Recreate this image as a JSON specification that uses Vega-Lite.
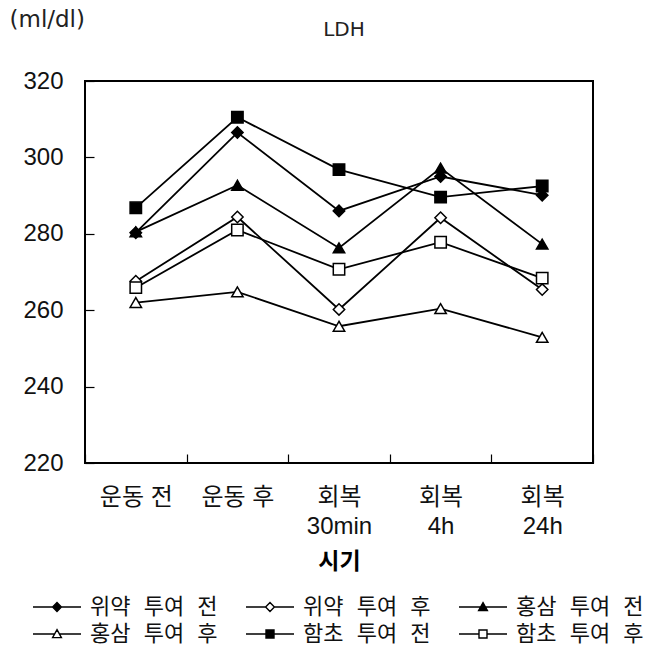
{
  "$schema": "https://vega.github.io/schema/vega-lite/v6.json",
  "autosize": "none",
  "width": 508,
  "height": 382,
  "padding": {"left": 85, "top": 81, "right": 60, "bottom": 187},
  "background": "white",
  "title": {
    "text": "LDH",
    "font": "DejaVu Sans",
    "fontSize": 20,
    "fontWeight": "normal",
    "color": "#222",
    "anchor": "middle",
    "baseline": "alphabetic",
    "offset": 0,
    "dy": 48,
    "dx": 5
  },
  "config": {
    "view": {"stroke": "black", "strokeWidth": 2},
    "axis": {"grid": false, "domain": false, "tickColor": "black", "tickWidth": 1.2, "labelColor": "#111"}
  },
  "data": {
    "values": [
      {"group": "위약 투여 전", "time": "운동 전", "ldh": 280.3},
      {"group": "위약 투여 전", "time": "운동 후", "ldh": 306.5},
      {"group": "위약 투여 전", "time": "회복 30min", "ldh": 286.0},
      {"group": "위약 투여 전", "time": "회복 4h", "ldh": 295.0},
      {"group": "위약 투여 전", "time": "회복 24h", "ldh": 290.1},
      {"group": "위약 투여 후", "time": "운동 전", "ldh": 267.6},
      {"group": "위약 투여 후", "time": "운동 후", "ldh": 284.4},
      {"group": "위약 투여 후", "time": "회복 30min", "ldh": 260.2},
      {"group": "위약 투여 후", "time": "회복 4h", "ldh": 284.2},
      {"group": "위약 투여 후", "time": "회복 24h", "ldh": 265.4},
      {"group": "홍삼 투여 전", "time": "운동 전", "ldh": 280.5},
      {"group": "홍삼 투여 전", "time": "운동 후", "ldh": 292.7},
      {"group": "홍삼 투여 전", "time": "회복 30min", "ldh": 276.3},
      {"group": "홍삼 투여 전", "time": "회복 4h", "ldh": 297.2},
      {"group": "홍삼 투여 전", "time": "회복 24h", "ldh": 277.3},
      {"group": "홍삼 투여 후", "time": "운동 전", "ldh": 262.0},
      {"group": "홍삼 투여 후", "time": "운동 후", "ldh": 264.8},
      {"group": "홍삼 투여 후", "time": "회복 30min", "ldh": 255.8},
      {"group": "홍삼 투여 후", "time": "회복 4h", "ldh": 260.4},
      {"group": "홍삼 투여 후", "time": "회복 24h", "ldh": 252.9},
      {"group": "함초 투여 전", "time": "운동 전", "ldh": 286.8},
      {"group": "함초 투여 전", "time": "운동 후", "ldh": 310.5},
      {"group": "함초 투여 전", "time": "회복 30min", "ldh": 296.8},
      {"group": "함초 투여 전", "time": "회복 4h", "ldh": 289.6},
      {"group": "함초 투여 전", "time": "회복 24h", "ldh": 292.5},
      {"group": "함초 투여 후", "time": "운동 전", "ldh": 265.9},
      {"group": "함초 투여 후", "time": "운동 후", "ldh": 281.0},
      {"group": "함초 투여 후", "time": "회복 30min", "ldh": 270.7},
      {"group": "함초 투여 후", "time": "회복 4h", "ldh": 277.8},
      {"group": "함초 투여 후", "time": "회복 24h", "ldh": 268.4}
    ]
  },
  "encoding": {
    "x": {
      "field": "time",
      "type": "nominal",
      "sort": ["운동 전", "운동 후", "회복 30min", "회복 4h", "회복 24h"],
      "scale": {"type": "band", "paddingInner": 0, "paddingOuter": 0},
      "axis": {
        "title": "시기",
        "titleFont": "Noto Sans CJK KR",
        "titleFontSize": 23,
        "titleFontWeight": "bold",
        "titleColor": "black",
        "titlePadding": 12,
        "labelAngle": 0,
        "labelFont": "Liberation Sans, Noto Sans CJK KR",
        "labelFontSize": 24,
        "labelLineHeight": 29,
        "labelPadding": 31,
        "labelExpr": "substring(datum.label, 0, 2) == '회복' ? ['회복', substring(datum.label, 3)] : datum.label",
        "tickBand": "extent",
        "tickSize": -9
      }
    },
    "y": {
      "field": "ldh",
      "type": "quantitative",
      "scale": {"domain": [220, 320], "nice": false, "zero": false},
      "axis": {
        "values": [220, 240, 260, 280, 300, 320],
        "title": "(ml/dl)",
        "titleAngle": 0,
        "titleAlign": "left",
        "titleBaseline": "alphabetic",
        "titleX": -76,
        "titleY": -55,
        "titleFont": "DejaVu Sans",
        "titleFontSize": 23,
        "titleFontWeight": "normal",
        "titleColor": "#222",
        "labelFont": "Liberation Sans",
        "labelFontSize": 24,
        "labelPadding": 31,
        "tickSize": -9
      }
    }
  },
  "layer": [
    {
      "mark": {"type": "line", "color": "black", "strokeWidth": 1.8},
      "encoding": {"detail": {"field": "group"}}
    },
    {
      "mark": {"type": "point", "stroke": "black", "strokeWidth": 1.4, "opacity": 0, "size": 64},
      "encoding": {
        "shape": {
          "field": "group",
          "type": "nominal",
          "scale": {
            "domain": ["위약 투여 전", "위약 투여 후", "홍삼 투여 전", "홍삼 투여 후", "함초 투여 전", "함초 투여 후"],
            "range": [
              "M-6,0H-1.1M1.1,0H6M0,-1.1L1.1,0L0,1.1L-1.1,0Z",
              "M-6,0H-1.1M1.1,0H6M0,-1.1L1.1,0L0,1.1L-1.1,0Z",
              "M-6,0H-0.6M0.6,0H6M0,-1.1L1.1,0.9H-1.1Z",
              "M-6,0H-0.6M0.6,0H6M0,-1.1L1.1,0.9H-1.1Z",
              "M-6,0H-1M1,0H6M-1,-1H1V1H-1Z",
              "M-6,0H-1M1,0H6M-1,-1H1V1H-1Z"
            ]
          },
          "legend": {
            "title": null,
            "orient": "none",
            "legendX": -53,
            "legendY": 515,
            "direction": "horizontal",
            "columns": 3,
            "columnPadding": 25,
            "rowPadding": 5,
            "gridAlign": "all",
            "labelFont": "Liberation Mono, Noto Sans CJK KR",
            "labelFontSize": 22,
            "labelColor": "#111",
            "symbolSize": 64,
            "symbolOffset": 14,
            "labelOffset": 22,
            "symbolOpacity": 1,
            "symbolStrokeColor": "black",
            "symbolStrokeWidth": 1.4,
            "encoding": {
              "symbols": {
                "stroke": {"value": "black"},
                "strokeWidth": {"value": 1.4},
                "opacity": {"value": 1}
              }
            }
          }
        },
        "fill": {
          "field": "group",
          "type": "nominal",
          "scale": {
            "domain": ["위약 투여 전", "위약 투여 후", "홍삼 투여 전", "홍삼 투여 후", "함초 투여 전", "함초 투여 후"],
            "range": ["black", "white", "black", "white", "black", "white"]
          },
          "legend": {
            "title": null,
            "orient": "none",
            "legendX": -53,
            "legendY": 515,
            "direction": "horizontal",
            "columns": 3,
            "columnPadding": 25,
            "rowPadding": 5,
            "gridAlign": "all",
            "labelFont": "Liberation Mono, Noto Sans CJK KR",
            "labelFontSize": 22,
            "labelColor": "#111",
            "symbolSize": 64,
            "symbolOffset": 14,
            "labelOffset": 22,
            "symbolOpacity": 1,
            "symbolStrokeColor": "black",
            "symbolStrokeWidth": 1.4,
            "encoding": {
              "symbols": {
                "stroke": {"value": "black"},
                "strokeWidth": {"value": 1.4},
                "opacity": {"value": 1}
              }
            }
          }
        }
      }
    },
    {
      "mark": {
        "type": "point",
        "stroke": "black",
        "strokeWidth": 1.5,
        "opacity": 1,
        "fillOpacity": 1,
        "size": 130,
        "shape": {"expr": "substring(datum.group, 0, 2) == '위약' ? 'diamond' : substring(datum.group, 0, 2) == '홍삼' ? 'triangle-up' : 'square'"},
        "fill": {"expr": "substring(datum.group, 3) == '투여 전' ? 'black' : 'white'"}
      }
    }
  ]
}
